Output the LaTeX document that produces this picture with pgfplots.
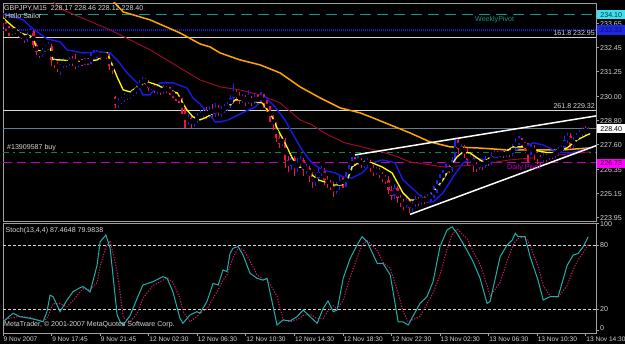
\documentclass[border=0pt]{standalone}
\usepackage{pgfplots}
\pgfplotsset{compat=1.18}
\usepackage{pgfplotstable}
\usepackage{fontspec}
\setmainfont{Liberation Sans}
\definecolor{cUp}{RGB}{30,30,255}
\definecolor{cDn}{RGB}{245,15,80}
\definecolor{cYel}{RGB}{255,255,0}
\definecolor{cBlu}{RGB}{25,25,230}
\definecolor{cDred}{RGB}{165,10,45}
\definecolor{cOra}{RGB}{255,165,0}
\definecolor{cTeal}{RGB}{20,150,140}
\definecolor{cGrn}{RGB}{0,140,80}
\definecolor{cMag}{RGB}{190,0,190}
\definecolor{cTxt}{RGB}{215,215,215}
\definecolor{cFrame}{RGB}{160,160,160}
\definecolor{cStoch}{RGB}{32,178,170}
\definecolor{cSig}{RGB}{230,20,110}
\definecolor{cWhiteL}{RGB}{215,215,215}
\definecolor{cCur}{RGB}{100,125,140}
\definecolor{cCyanBox}{RGB}{64,224,240}
\definecolor{cCyanTxt}{RGB}{10,50,60}
\definecolor{cBlueBox}{RGB}{30,40,225}
\definecolor{cBlueTxt}{RGB}{10,10,120}
\definecolor{cMagBox}{RGB}{255,0,255}
\definecolor{cMagTxt}{RGB}{60,0,60}
\newcommand\fs{\fontsize{7.1}{8.5}\selectfont}
\newcommand\fsx{\fontsize{6.6}{8}\selectfont}
\pgfplotstableread{
k o h l c
0 233.94 234.09 233.49 233.64
1 233.64 233.74 233.29 233.44
2 233.44 233.54 233.04 233.19
3 233.19 233.44 233.09 233.34
4 233.34 233.49 233.14 233.24
5 233.24 233.34 232.99 233.09
6 233.09 233.19 232.89 233.04
7 233.04 233.14 232.69 232.84
8 232.84 233.24 232.74 233.14
9 233.14 233.44 233.04 233.29
10 233.29 233.34 232.44 232.59
11 232.59 232.69 232.09 232.24
12 232.24 232.34 231.94 232.09
13 232.09 232.44 231.99 232.34
14 232.34 232.59 232.24 232.44
15 232.44 232.74 232.34 232.54
16 232.54 232.64 231.54 231.84
17 231.84 231.94 231.44 231.64
18 231.64 231.74 231.24 231.44
19 231.44 231.64 231.09 231.54
20 231.54 231.94 231.44 231.74
21 231.74 231.84 231.49 231.64
22 231.64 231.99 231.54 231.84
23 231.84 232.04 231.54 231.69
24 231.69 232.14 231.39 231.54
25 231.54 231.84 231.44 231.74
26 231.74 231.89 231.54 231.69
27 231.69 231.94 231.59 231.84
28 231.84 231.94 231.59 231.74
29 231.74 232.24 231.64 231.94
30 231.94 232.34 231.84 232.09
31 232.09 232.34 231.94 232.14
32 232.14 232.24 231.84 232.04
33 232.04 232.24 231.94 232.09
34 232.09 232.24 231.89 232.04
35 232.04 232.14 231.34 231.54
36 231.54 231.69 231.14 231.34
37 229.99 230.04 229.44 229.59
38 229.59 229.94 229.44 229.79
39 229.79 229.99 229.64 229.84
40 229.84 230.19 229.74 230.04
41 230.04 230.14 229.84 229.99
42 229.99 230.29 229.89 230.14
43 230.14 230.39 230.04 230.24
44 230.24 230.59 230.14 230.44
45 230.44 230.84 230.34 230.64
46 230.64 230.99 230.54 230.84
47 230.84 230.94 230.59 230.74
48 230.74 230.84 230.29 230.44
49 230.44 230.69 230.34 230.54
50 230.54 230.64 230.19 230.34
51 230.34 230.59 230.14 230.44
52 230.44 230.54 230.09 230.24
53 230.24 230.59 230.14 230.44
54 230.44 230.54 230.19 230.34
55 230.34 230.49 230.09 230.24
56 230.24 230.34 229.94 230.09
57 230.09 230.24 229.79 229.94
58 229.94 230.09 229.69 229.84
59 229.84 229.94 229.14 229.34
60 229.34 229.44 228.44 228.74
61 228.74 229.14 228.59 228.94
62 228.94 229.04 228.44 228.64
63 228.64 229.04 228.49 228.84
64 228.84 229.19 228.69 228.99
65 228.99 229.34 228.84 229.09
66 229.09 229.44 228.94 229.24
67 229.24 229.49 228.89 229.04
68 229.04 229.54 228.94 229.34
69 229.34 229.64 228.94 229.14
70 229.14 229.69 228.99 229.44
71 229.44 229.59 229.04 229.24
72 229.24 229.54 228.99 229.34
73 229.34 229.64 229.19 229.44
74 229.44 229.74 229.29 229.54
75 229.54 230.09 229.44 229.94
76 229.94 230.69 229.64 230.24
77 230.24 230.34 229.84 230.04
78 230.04 230.24 229.64 229.84
79 229.84 230.14 229.69 229.94
80 229.94 230.09 229.54 229.79
81 229.79 230.34 229.64 229.89
82 229.89 230.04 229.54 229.74
83 229.74 230.14 229.64 229.94
84 229.94 230.09 229.59 229.84
85 229.84 230.24 229.74 230.04
86 230.04 230.14 229.44 229.64
87 229.64 229.84 229.24 229.44
88 229.44 229.54 228.74 228.94
89 228.94 229.09 228.34 228.59
90 228.59 228.74 227.74 227.94
91 227.94 228.14 227.44 227.64
92 227.64 228.04 227.54 227.84
93 227.84 227.94 226.44 226.84
94 226.84 227.04 226.24 226.54
95 226.54 227.09 226.34 226.94
96 226.94 227.04 226.04 226.44
97 226.44 226.94 226.24 226.64
98 226.64 227.04 226.44 226.84
99 226.84 226.94 226.04 226.34
100 226.34 226.64 226.14 226.44
101 226.44 226.54 225.74 226.04
102 226.04 226.24 225.44 225.74
103 225.74 226.14 225.54 225.94
104 225.94 226.44 225.74 226.24
105 226.24 226.54 226.04 226.34
106 226.34 226.44 225.59 225.84
107 225.84 226.04 225.44 225.64
108 225.64 225.84 225.34 225.54
109 225.54 225.74 224.99 225.24
110 225.24 225.74 225.14 225.54
111 225.54 226.04 225.34 225.84
112 225.84 226.04 225.44 225.64
113 225.64 226.24 225.49 226.04
114 226.04 226.59 225.94 226.44
115 226.44 226.99 226.34 226.84
116 226.84 226.99 226.54 226.74
117 226.74 227.04 226.59 226.84
118 226.84 226.94 226.44 226.59
119 226.59 226.84 226.44 226.69
120 226.69 226.94 226.54 226.74
121 226.74 226.84 226.24 226.44
122 226.44 226.59 226.04 226.24
123 226.24 226.49 226.09 226.34
124 226.34 226.44 225.94 226.14
125 226.14 226.24 225.74 225.94
126 225.94 226.09 225.64 225.84
127 225.84 226.04 225.14 225.34
128 225.34 225.54 224.84 225.04
129 225.04 225.64 224.89 225.44
130 225.44 225.54 224.69 224.94
131 224.94 225.09 224.49 224.74
132 224.74 224.89 224.34 224.54
133 224.54 225.04 224.44 224.84
134 224.84 224.94 224.19 224.44
135 224.44 224.84 224.24 224.64
136 224.64 225.04 224.49 224.84
137 224.84 224.99 224.54 224.74
138 224.74 225.09 224.59 224.89
139 224.89 225.04 224.64 224.79
140 224.79 225.14 224.69 224.94
141 224.94 225.24 224.79 225.04
142 225.04 225.54 224.94 225.34
143 225.34 225.84 225.19 225.64
144 225.64 226.14 225.54 225.94
145 225.94 226.34 225.84 226.14
146 226.14 226.64 226.04 226.44
147 226.44 226.59 226.19 226.34
148 226.34 226.99 226.24 226.84
149 226.84 227.99 226.74 227.84
150 227.84 227.94 227.14 227.34
151 227.34 227.64 227.09 227.44
152 227.44 227.59 226.94 227.24
153 227.24 227.44 226.59 226.84
154 226.84 227.14 226.69 226.94
155 226.94 227.09 226.24 226.59
156 226.59 226.74 226.24 226.44
157 226.44 226.94 226.34 226.74
158 226.74 226.84 226.34 226.54
159 226.54 227.04 226.44 226.84
160 226.84 226.99 226.54 226.69
161 226.69 227.24 226.59 227.04
162 227.04 227.34 226.94 227.14
163 227.14 227.29 226.94 227.09
164 227.09 227.34 226.99 227.19
165 227.19 227.34 226.94 227.09
166 227.09 227.39 226.99 227.24
167 227.24 227.39 226.99 227.14
168 227.14 227.64 227.04 227.44
169 227.44 227.94 227.34 227.74
170 227.74 228.04 227.59 227.84
171 227.84 227.94 227.44 227.64
172 227.64 227.74 227.34 227.54
173 227.54 227.69 226.74 227.34
174 227.34 227.64 227.09 227.44
175 227.44 227.59 226.84 227.24
176 227.24 227.34 226.64 226.94
177 226.94 227.09 226.59 226.84
178 226.84 227.19 226.69 227.04
179 227.04 227.14 226.74 226.94
180 226.94 227.29 226.84 227.14
181 227.14 227.24 226.89 227.04
182 227.04 227.39 226.94 227.24
183 227.24 227.49 227.09 227.34
184 227.34 227.59 227.19 227.44
185 227.44 228.04 227.29 227.84
186 227.84 228.19 227.69 228.04
187 228.04 228.19 227.44 227.59
188 227.59 227.99 227.44 227.84
189 227.84 228.19 227.74 228.04
190 228.04 228.34 227.94 228.14
191 228.14 228.49 228.04 228.30
192 228.30 228.55 228.10 228.17
193 228.17 228.46 228.12 228.40
}\candles
\begin{document}
\begin{tikzpicture}[x=1bp,y=1bp]
\useasboundingbox (0,0) rectangle (625,344);
\fill[black] (0,0) rectangle (625,344);
% ---------------- main price panel ----------------
\begin{axis}[at={(3bp,123bp)}, anchor=south west, scale only axis,
  width=593bp, height=218bp,
  xmin=0, xmax=195.4, ymin=223.785, ymax=234.685,
  axis line style={cFrame, line width=0.8bp},
  xtick=\empty,
  ytick={223.95,225.15,226.35,227.60,228.80,230.00,231.25,232.45,233.65},
  ytick pos=right, yticklabel pos=right, tick align=outside,
  major tick length=3bp, tick style={cFrame, line width=0.6bp},
  yticklabel style={font=\fs, text=cTxt, anchor=west, inner sep=1bp,
    /pgf/number format/fixed, /pgf/number format/fixed zerofill,
    /pgf/number format/precision=2, /pgf/number format/assume math mode=true},
  clip=true]
\addplot[cTeal, line width=1.6bp, dash pattern=on 11bp off 6bp] coordinates {(0,234.10) (195.4,234.10)};
\addplot[cBlu, line width=1.2bp, dash pattern=on 1bp off 1bp] coordinates {(0,233.33) (195.4,233.33)};
\addplot[cWhiteL, line width=1bp] coordinates {(0,232.95) (195.4,232.95)};
\addplot[cWhiteL, line width=1bp] coordinates {(0,229.32) (195.4,229.32)};
\addplot[cCur, line width=0.8bp] coordinates {(0,228.40) (195.4,228.40)};
\addplot[cGrn, line width=1bp, dash pattern=on 6bp off 4bp on 2bp off 4bp] coordinates {(0,227.22) (195.4,227.22)};
\addplot[cMag, line width=1bp, dash pattern=on 9bp off 5bp] coordinates {(0,226.70) (195.4,226.70)};
\addplot[cOra, line width=1.5bp] coordinates {(35.5,234.90) (39.6,234.24) (48.5,233.84) (58.3,233.19) (64.9,232.64) (68.2,232.49) (71.5,232.19) (78.1,231.84) (84.7,231.59) (91.3,231.19) (97.9,230.49) (104.5,229.94) (111.1,229.44) (117.7,229.19) (121.9,228.94) (129.2,228.49) (134.1,228.19) (140.7,227.74) (147.3,227.49) (156.2,227.44) (166.1,227.34) (177.0,227.34) (184.6,227.34) (193.5,227.44)};
\addplot[cDred, line width=0.9bp] coordinates {(16.0,234.79) (19.8,234.34) (35.3,233.34) (48.5,232.34) (64.9,230.84) (71.5,230.49) (78.1,230.34) (84.7,230.09) (91.3,229.69) (97.9,228.84) (101.8,228.59) (107.1,228.09) (112.7,227.69) (118.3,227.49) (124.9,227.24) (129.2,227.04) (134.1,226.74) (145.0,226.49) (156.2,226.59) (167.1,226.84) (178.0,226.99) (189.2,227.19) (193.5,227.24)};
\addplot[only marks, mark=none, forget plot,
  x filter/.expression={\thisrow{c}>=\thisrow{o} ? x : nan},
  error bars/.cd, y dir=both, y explicit, error mark=none,
  error bar style={draw=cUp, line width=1.2bp}]
  table[x=k, y expr={(\thisrow{h}+\thisrow{l})/2}, y error expr={(\thisrow{h}-\thisrow{l})/2}] {\candles};
\addplot[only marks, mark=none, forget plot,
  x filter/.expression={\thisrow{c}<\thisrow{o} ? x : nan},
  error bars/.cd, y dir=both, y explicit, error mark=none,
  error bar style={draw=cDn, line width=1.2bp}]
  table[x=k, y expr={(\thisrow{h}+\thisrow{l})/2}, y error expr={(\thisrow{h}-\thisrow{l})/2}] {\candles};
\addplot[only marks, mark=none, forget plot,
  x filter/.expression={\thisrow{c}>=\thisrow{o} ? x : nan},
  error bars/.cd, y dir=both, y explicit, error mark=none,
  error bar style={draw=cUp, line width=2.4bp}]
  table[x=k, y expr={(\thisrow{o}+\thisrow{c})/2}, y error expr={abs(\thisrow{c}-\thisrow{o})/2}] {\candles};
\addplot[only marks, mark=none, forget plot,
  x filter/.expression={\thisrow{c}<\thisrow{o} ? x : nan},
  error bars/.cd, y dir=both, y explicit, error mark=none,
  error bar style={draw=cDn, line width=2.4bp}]
  table[x=k, y expr={(\thisrow{o}+\thisrow{c})/2}, y error expr={abs(\thisrow{c}-\thisrow{o})/2}] {\candles};
\addplot[cBlu, line width=1.4bp] coordinates {(0,234.15) (1.3,234.09) (6.6,233.84) (9.9,233.39) (14.5,232.89) (18.8,232.74) (21.1,232.34) (26.4,232.19) (32.0,232.24) (35.3,232.19) (37.6,231.84) (40.9,231.19) (44.2,230.69) (46.1,230.09) (48.5,230.09) (51.7,230.69) (56.0,230.69) (60.6,230.44) (62.6,229.94) (64.9,229.64) (68.2,229.09) (69.9,228.74) (71.5,228.74) (74.2,228.84) (78.8,229.19) (83.1,229.49) (85.4,229.84) (86.4,229.99) (89.6,229.49) (92.9,228.84) (95.3,228.19) (98.5,227.34) (101.8,226.69) (105.1,226.34) (109.4,226.19) (112.7,225.94) (115.0,225.94) (118.3,226.19) (121.6,226.69) (124.9,226.84) (129.2,226.69) (131.8,225.84) (136.5,225.19) (139.7,224.74) (141.7,224.74) (145.0,225.19) (148.3,225.99) (151.6,226.69) (154.9,226.94) (159.5,226.84) (162.8,226.99) (167.1,227.24) (171.4,227.49) (174.7,227.69) (178.0,227.59) (182.6,227.24) (186.9,227.19) (191.2,227.34) (193.5,227.44)};
\addplot[cYel, line width=1.3bp] coordinates {(0,233.94) (5.6,233.19) (9.9,232.99) (11.2,232.34) (13.2,232.24) (15.5,232.49) (16.5,231.84) (18.8,231.84) (26.4,231.74) (31.0,231.84) (34.3,232.19) (35.3,231.84) (37.6,230.99) (39.6,230.34) (41.9,230.24) (45.2,230.59) (47.5,230.74) (50.8,230.59) (54.1,230.34) (57.4,230.19) (59.0,229.74) (60.6,229.34) (62.6,228.99) (64.9,228.84) (66.6,228.94) (69.9,229.24) (73.2,229.34) (76.5,229.84) (79.8,229.84) (85.4,229.69) (86.4,229.49) (88.7,228.99) (90.6,228.34) (92.9,227.69) (95.3,226.94) (97.2,226.49) (99.5,226.44) (101.8,226.09) (103.8,225.84) (106.1,225.74) (108.4,225.59) (111.7,225.59) (113.7,225.94) (115.0,226.49) (117.0,226.69) (119.3,226.74) (121.6,226.69) (124.9,226.49) (128.2,226.19) (131.8,225.19) (134.1,224.84) (137.4,224.84) (140.7,224.99) (143.0,225.49) (145.0,225.84) (147.3,226.49) (149.6,226.99) (151.6,227.24) (153.9,227.19) (156.2,226.94) (158.2,226.74) (160.5,226.94) (162.8,227.09) (164.8,227.19) (168.1,227.49) (171.4,227.49) (174.7,227.34) (178.0,227.24) (180.3,227.19) (182.6,227.24) (185.9,227.44) (189.2,227.84) (192.5,228.09) (193.5,228.15)};
\addplot[white, line width=1.5bp] coordinates {(116.0,227.09) (195.4,229.04)};
\addplot[white, line width=1.5bp] coordinates {(134.1,224.115) (195.4,227.55)};
\end{axis}
% ---------------- stochastic panel ----------------
\begin{axis}[at={(3bp,11bp)}, anchor=south west, scale only axis,
  width=593bp, height=110bp,
  xmin=0, xmax=195.4, ymin=-2.5, ymax=100.6,
  axis line style={cFrame, line width=0.8bp},
  xtick={0,16,32,48,64,80,96,112,128,144,160,176,192},
  xticklabels={9 Nov 2007, 9 Nov 17:45, 9 Nov 21:45, 12 Nov 02:30, 12 Nov 06:30, 12 Nov 10:30, 12 Nov 14:30, 12 Nov 18:30, 12 Nov 22:30, 13 Nov 02:30, 13 Nov 06:30, 13 Nov 10:30, 13 Nov 14:30},
  xtick pos=bottom, ytick pos=right, yticklabel pos=right,
  tick align=outside, major tick length=3bp, tick style={cFrame, line width=0.6bp},
  xticklabel style={font=\fsx, text=cTxt, anchor=north west, inner sep=0.5bp},
  ytick={0,20,80,100},
  yticklabels={\raisebox{4bp}{0},20,80,\raisebox{-4.5bp}{100}},
  yticklabel style={font=\fs, text=cTxt, anchor=west, inner sep=1bp},
  clip=true]
\addplot[cTxt, line width=0.6bp, dash pattern=on 3bp off 2bp] coordinates {(0,80) (195.4,80)};
\addplot[cTxt, line width=0.6bp, dash pattern=on 3bp off 2bp] coordinates {(0,20) (195.4,20)};
\addplot[cSig, line width=1bp, dash pattern=on 1.2bp off 1.5bp] coordinates {(0,10) (3.3,12) (5.6,13) (8.9,12) (11.2,10) (13.2,9) (14.5,11) (15.5,18) (16.5,25) (18.8,25) (21.1,22) (23.1,28) (25.4,36) (26.4,39) (28.7,38) (31.0,45) (32.0,60) (33.9,78) (35.3,84) (37.6,55) (38.6,35) (39.6,12) (41.9,8) (44.2,16) (46.1,30) (49.4,42) (52.7,47) (54.1,49) (56.0,45) (58.3,30) (59.3,18) (61.6,8) (63.9,13) (64.9,16) (67.2,20) (69.2,30) (70.9,38) (72.5,47) (73.8,52) (74.8,60) (75.8,68) (77.5,77) (79.1,76) (81.4,65) (83.7,52) (85.7,48) (87.0,48) (90.3,32) (92.3,10) (94.6,8) (96.9,10) (98.9,14) (101.2,15) (103.5,11) (105.5,11) (107.1,18) (108.8,23) (110.1,20) (112.1,28) (114.4,50) (116.7,68) (118.3,80) (120.0,84) (123.3,75) (125.2,64) (127.6,58) (130.2,35) (131.8,18) (133.5,8) (137.4,13) (139.7,25) (141.7,35) (144.0,52) (146.3,76) (148.0,90) (149.6,95) (152.9,86) (154.9,74) (157.2,62) (159.5,42) (160.5,32) (163.8,45) (166.1,65) (167.8,78) (168.8,83) (169.7,86) (172.0,88) (173.7,80) (176.3,60) (178.0,42) (180.3,32) (182.9,31) (185.9,42) (187.9,57) (189.5,66) (191.2,73) (192.8,79.98)};
\addplot[cStoch, line width=1bp] coordinates {(0,8) (3.3,16) (5.6,12.8) (8.9,11.3) (11.2,9.7) (13.2,8) (14.5,17.5) (15.5,33) (16.5,31.6) (18.8,17.5) (21.1,28.4) (23.1,36.3) (25.4,40) (26.4,41) (28.7,36) (31.0,61) (32.0,83) (33.9,89.4) (35.3,77) (37.6,14.4) (38.6,8) (39.6,5) (41.9,14) (44.2,30) (46.1,42.5) (49.4,45.6) (52.7,50.3) (54.1,48.8) (56.0,36) (58.3,11.3) (59.3,6.6) (61.6,14.4) (63.9,17.5) (64.9,16) (67.2,27) (69.2,44) (70.9,42.5) (72.5,56.6) (73.8,55) (74.8,72) (75.8,77) (77.5,78.5) (79.1,70.6) (81.4,53.5) (83.7,48.8) (85.7,47) (87.0,48.8) (90.3,5) (92.3,9.7) (94.6,8.8) (96.9,12.8) (98.9,19) (101.2,12.8) (103.5,6.6) (105.5,20.6) (107.1,27.5) (108.8,17.5) (110.1,19) (112.1,48.8) (114.4,67.5) (116.7,80) (118.3,87.8) (120.0,83) (123.3,62.8) (125.2,62.8) (127.6,52) (130.2,8) (131.8,8) (133.5,5) (134.1,8) (137.4,25.3) (139.7,31.5) (141.7,45.6) (144.0,78.5) (146.3,94) (148.0,97) (149.6,91) (152.9,75) (154.9,64.4) (157.2,48.8) (159.5,25.3) (160.5,27) (163.8,69) (166.1,80) (167.8,84.7) (168.8,91) (169.7,87.8) (172.0,87.8) (173.7,69) (176.3,47) (178.0,28.4) (180.3,31.5) (182.9,31.5) (185.9,61) (187.9,70.6) (189.5,72) (191.2,78.5) (192.8,87.46)};
\end{axis}
% ---------------- texts ----------------
\node[anchor=west, inner sep=0, text=cTxt, font=\fs] at (4,336) {GBPJPY,M15\ \ 228.17 228.46 228.12 228.40};
\node[anchor=west, inner sep=0, text=cTxt, font=\fs] at (5,328.5) {Hello Sailor};
\node[anchor=west, inner sep=0, text=cTxt, font=\fs] at (7,196.3) {\#13909587 buy};
\node[anchor=east, inner sep=0, text=cTxt, font=\fs] at (595,310.8) {161.8 232.95};
\node[anchor=east, inner sep=0, text=cTxt, font=\fs] at (595,238) {261.8 229.32};
\node[anchor=west, inner sep=0, text=cTeal, font=\fs] at (475,324.3) {WeeklyPivot};
\node[anchor=west, inner sep=0, text=cMag, font=\fs] at (507,176) {Daily Pivot};
\node[anchor=west, inner sep=0, text=cTxt, font=\fs] at (5.5,113.7) {Stoch(13,4,4) 87.4648 79.9838};
\node[anchor=west, inner sep=0, text=cTxt, font=\fs] at (4,19.5) {MetaTrader, \textcopyright\ 2001-2007 MetaQuotes Software Corp.};
\node[anchor=west, fill=cCyanBox, text=cCyanTxt, font=\fs, inner xsep=1.5bp, inner ysep=1bp, minimum height=9.5bp, minimum width=28bp] at (597,329.3) {234.10};
\node[anchor=west, fill=cBlueBox, text=cBlueTxt, font=\fs, inner xsep=1.5bp, inner ysep=1bp, minimum height=9bp, minimum width=28bp] at (597,314) {233.33};
\node[anchor=west, fill=white, text=black, font=\fs, inner xsep=1.5bp, inner ysep=1bp, minimum height=9bp, minimum width=28bp] at (597,215.3) {228.40};
\node[anchor=west, fill=cMagBox, text=cMagTxt, font=\fs, inner xsep=1.5bp, inner ysep=1bp, minimum height=9bp, minimum width=28bp] at (597,181) {226.73};
\end{tikzpicture}
\end{document}
